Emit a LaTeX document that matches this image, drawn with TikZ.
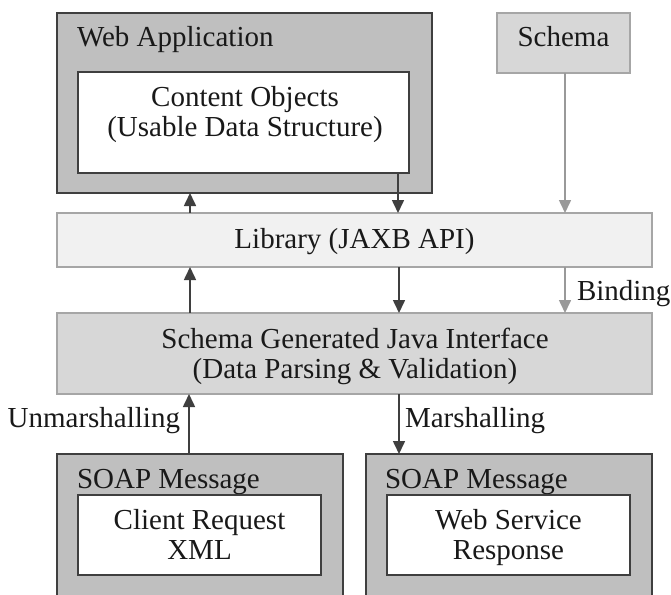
\documentclass[tikz,border=0pt]{standalone}
\usepackage{fontspec}
\setmainfont{Liberation Serif}
\usetikzlibrary{arrows.meta,calc}

\definecolor{inkdark}{HTML}{3F3F3F}
\definecolor{inkgray}{HTML}{999999}
\definecolor{edgegray}{HTML}{A6A6A6}
\definecolor{fillmid}{HTML}{BFBFBF}
\definecolor{filllight}{HTML}{D7D7D7}
\definecolor{fillpale}{HTML}{F1F1F1}

\tikzset{
  box/.style={rectangle, anchor=north west, inner sep=0pt, outer sep=0pt, line width=1.6pt},
  darkbox/.style={box, draw=inkdark, fill=fillmid},
  innerbox/.style={box, draw=inkdark, fill=white},
  graybox/.style={box, draw=edgegray, fill=filllight},
  palebox/.style={box, draw=edgegray, fill=fillpale},
  txt/.style={inner sep=0pt, outer sep=0pt, font=\fontsize{29pt}{30pt}\selectfont, text=black!90},
  ctxt/.style={txt, align=center, anchor=base},
  arr/.style={draw=inkdark, line width=1.6pt, -{Triangle[length=13pt,width=12pt]}},
  garr/.style={draw=inkgray, line width=1.6pt, -{Triangle[length=13pt,width=12pt]}},
}

\begin{document}
\begin{tikzpicture}[x=1pt,y=-1pt]
  \clip (0,0) rectangle (671,594);
  \fill[white] (0,0) rectangle (671,594);

  % top row: web application and schema
  \node[darkbox, minimum width=375pt, minimum height=180pt] (webapp) at (57,13) {};
  \node[txt, anchor=base west] (webapptxt) at (77,46) {Web Application};
  \node[innerbox, minimum width=331pt, minimum height=101pt] (content) at (78,72) {};
  % multi-line texts are placed by the baseline of their last line
  \node[ctxt] (contenttxt) at (245,136) {Content Objects\\(Usable Data Structure)};

  \node[graybox, minimum width=133pt, minimum height=60pt] (schema) at (497,13) {};
  \node[ctxt] (schematxt) at (563.5,46) {Schema};

  % library layer
  \node[palebox, minimum width=595pt, minimum height=54pt] (lib) at (57,213) {};
  \node[ctxt] (libtxt) at (354.5,248) {Library (JAXB API)};

  % generated interface layer
  \node[graybox, minimum width=595pt, minimum height=81pt] (sgen) at (57,313) {};
  \node[ctxt] (sgentxt) at (355,378) {Schema Generated Java Interface\\(Data Parsing \& Validation)};

  % soap messages
  \node[darkbox, minimum width=286pt, minimum height=160pt] (soapL) at (57,454) {};
  \node[txt, anchor=base west] (soapLtxt) at (77,488) {SOAP Message};
  \node[innerbox, minimum width=243pt, minimum height=80pt] (reqbox) at (78,495) {};
  \node[ctxt] (reqtxt) at (199.5,559) {Client Request\\XML};

  \node[darkbox, minimum width=286pt, minimum height=160pt] (soapR) at (366,454) {};
  \node[txt, anchor=base west] (soapRtxt) at (385,488) {SOAP Message};
  \node[innerbox, minimum width=243pt, minimum height=80pt] (respbox) at (387,495) {};
  \node[ctxt] (resptxt) at (508.5,559) {Web Service\\Response};

  % connectors
  \draw[arr] ([xshift=133pt]lib.north west) -- ([xshift=133pt]webapp.south west);
  \draw[arr] ([xshift=320pt]content.south west) -- ([xshift=341pt]lib.north west);
  \draw[garr] ([xshift=1.5pt]schema.south) -- ([xshift=1.5pt]schema.south |- lib.north);

  \draw[arr] ([xshift=133pt]sgen.north west) -- ([xshift=133pt]lib.south west);
  \draw[arr] ([xshift=342pt]lib.south west) -- ([xshift=342pt]sgen.north west);
  \draw[garr] ([xshift=1.5pt]schema.south |- lib.south) -- ([xshift=1.5pt]schema.south |- sgen.north);
  \node[txt, anchor=base west] (bindlbl) at (577,300) {Binding};

  \draw[arr] ([xshift=132pt]soapL.north west) -- ([xshift=132pt]sgen.south west);
  \node[txt, anchor=base east] (unmlbl) at (180,427) {Unmarshalling};
  \draw[arr] ([xshift=342pt]sgen.south west) -- ([xshift=33pt]soapR.north west);
  \node[txt, anchor=base west] (marlbl) at (405,427) {Marshalling};
\end{tikzpicture}
\end{document}
